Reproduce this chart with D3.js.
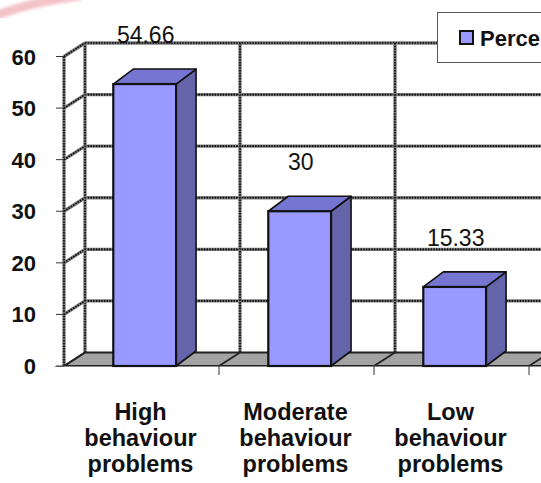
<!DOCTYPE html>
<html>
<head>
<meta charset="utf-8">
<script src="https://cdn.jsdelivr.net/npm/d3@7"></script>
<style>
  html, body { margin: 0; padding: 0; background: #fff; }
  svg { display: block; }
</style>
</head>
<body>
<svg id="chart" width="541" height="483"></svg>
<script>
// Chart data
const categories = [
  ["High", "behaviour", "problems"],
  ["Moderate", "behaviour", "problems"],
  ["Low", "behaviour", "problems"]
];
const values = [54.66, 30, 15.33];
const valueLabels = ["54.66", "30", "15.33"];
const yTicks = [0, 10, 20, 30, 40, 50, 60];
const seriesName = "Percentage";

const svg = d3.select("#chart");
const W = 541, H = 483;

// Oblique 3D projection offsets
const wallDX = 21, wallDY = -13.5;   // depth of the back wall
const barDX = 20, barDY = -15;       // depth of each bar

const y = d3.scaleLinear().domain([0, 60]).range([366, 56.5]);
const x = d3.scaleBand().domain(d3.range(categories.length)).range([64, 529]).padding(0);
const barOffset = x.bandwidth() * 0.318;
const barWidth = x.bandwidth() * 0.405;

// decorative pink swoosh in the top-left corner
const defs = svg.append("defs");
defs.append("filter").attr("id", "soft")
  .append("feGaussianBlur").attr("stdDeviation", 1.6);
svg.append("path")
  .attr("d", "M-5,16 Q30,2 80,-4")
  .attr("fill", "none")
  .attr("stroke", "#f3c3c8")
  .attr("stroke-width", 9)
  .attr("filter", "url(#soft)");

// hatched grid line helper
function gridLine(g, x1, y1, x2, y2) {
  g.append("line").attr("x1", x1).attr("y1", y1).attr("x2", x2).attr("y2", y2)
    .attr("stroke", "#7d7d7d").attr("stroke-width", 3.4);
  g.append("line").attr("x1", x1).attr("y1", y1).attr("x2", x2).attr("y2", y2)
    .attr("stroke", "#000").attr("stroke-width", 1.6).attr("stroke-dasharray", "1.5,1.2");
}

const grid = svg.append("g");
const backLeft = x.range()[0] + wallDX;
const xBoundaries = d3.range(categories.length + 1).map(i => x.range()[0] + i * x.bandwidth());

// back wall horizontal gridlines
yTicks.forEach(t => {
  if (t === 0) return;
  gridLine(grid, backLeft, y(t) + wallDY, W + 20, y(t) + wallDY);
});
// back wall vertical gridlines
xBoundaries.forEach(b => {
  gridLine(grid, b + wallDX, y(60) + wallDY, b + wallDX, y(0) + wallDY);
});
// left wall: front edge and diagonals at every tick
gridLine(grid, x.range()[0], y(60), x.range()[0], y(0));
yTicks.forEach(t => {
  if (t === 0) return;
  gridLine(grid, x.range()[0], y(t), backLeft, y(t) + wallDY);
});

// floor
const floor = svg.append("g");
floor.append("path")
  .attr("d", d3.line()([
    [x.range()[0], y(0)], [W + 20, y(0)],
    [W + 20 + wallDX, y(0) + wallDY], [backLeft, y(0) + wallDY]
  ]) + "Z")
  .attr("fill", "#a3a3a3")
  .attr("stroke", "#222")
  .attr("stroke-width", 1.8);
xBoundaries.forEach(b => {
  floor.append("line")
    .attr("x1", b).attr("y1", y(0)).attr("x2", b + wallDX).attr("y2", y(0) + wallDY)
    .attr("stroke", "#222").attr("stroke-width", 1.8);
});
floor.append("line")
  .attr("x1", x.range()[0] - 9).attr("y1", y(0) + 0.5).attr("x2", W).attr("y2", y(0) + 0.5)
  .attr("stroke", "#8a8a8a").attr("stroke-width", 1);

// tick marks
const ticks = svg.append("g").attr("stroke", "#333").attr("stroke-width", 1);
yTicks.forEach(t => {
  ticks.append("line").attr("x1", x.range()[0] - 8).attr("x2", x.range()[0])
    .attr("y1", y(t)).attr("y2", y(t));
});
xBoundaries.slice(1).forEach(b => {
  ticks.append("line").attr("x1", b).attr("x2", b)
    .attr("y1", y(0)).attr("y2", y(0) + 9);
});

// bars
const bars = svg.append("g").selectAll("g").data(values).join("g");
bars.each(function(v, i) {
  const g = d3.select(this);
  const x0 = x(i) + barOffset, x1 = x0 + barWidth;
  const yTop = y(v), yBot = y(0);
  // side face
  g.append("path")
    .attr("d", d3.line()([[x1, yBot], [x1 + barDX, yBot + barDY], [x1 + barDX, yTop + barDY], [x1, yTop]]) + "Z")
    .attr("fill", "#6464aa").attr("stroke", "#111").attr("stroke-width", 1.6).attr("stroke-linejoin", "round");
  // top face
  g.append("path")
    .attr("d", d3.line()([[x0, yTop], [x0 + barDX, yTop + barDY], [x1 + barDX, yTop + barDY], [x1, yTop]]) + "Z")
    .attr("fill", "#7676d2").attr("stroke", "#111").attr("stroke-width", 1.6).attr("stroke-linejoin", "round");
  // front face
  g.append("rect")
    .attr("x", x0).attr("y", yTop).attr("width", barWidth).attr("height", yBot - yTop)
    .attr("fill", "#9999ff").attr("stroke", "#111").attr("stroke-width", 2.2);
});

// value labels
svg.append("g").selectAll("text").data(values).join("text")
  .attr("x", (v, i) => x(i) + barOffset + barWidth / 2 + 1)
  .attr("y", v => y(v) - 41)
  .attr("text-anchor", "middle")
  .attr("font-family", "'Liberation Sans', Arial, sans-serif")
  .attr("font-size", 23)
  .attr("fill", "#111")
  .text((v, i) => valueLabels[i]);

// y axis labels
svg.append("g").selectAll("text").data(yTicks).join("text")
  .attr("x", 36)
  .attr("y", t => y(t) + 8)
  .attr("text-anchor", "end")
  .attr("font-family", "'Liberation Sans', Arial, sans-serif")
  .attr("font-weight", "bold")
  .attr("font-size", 22)
  .attr("fill", "#111")
  .text(t => t);

// category labels
const catG = svg.append("g").selectAll("text").data(categories).join("text")
  .attr("text-anchor", "middle")
  .attr("font-family", "'Liberation Sans', Arial, sans-serif")
  .attr("font-weight", "bold")
  .attr("font-size", 23.5)
  .attr("fill", "#111");
catG.each(function(lines, i) {
  const cx = x(i) + x.bandwidth() / 2 - 1;
  d3.select(this).selectAll("tspan").data(lines).join("tspan")
    .attr("x", cx)
    .attr("y", (d, j) => 420 + j * 26)
    .text(d => d);
});

// legend
const legend = svg.append("g");
legend.append("rect")
  .attr("x", 437.5).attr("y", 12.5).attr("width", 130).attr("height", 50)
  .attr("fill", "#fff").attr("stroke", "#555").attr("stroke-width", 1);
legend.append("rect")
  .attr("x", 460).attr("y", 31).attr("width", 13).attr("height", 13)
  .attr("fill", "#9999ff").attr("stroke", "#111").attr("stroke-width", 2);
legend.append("text")
  .attr("x", 480).attr("y", 46)
  .attr("font-family", "'Liberation Sans', Arial, sans-serif")
  .attr("font-weight", "bold")
  .attr("font-size", 22)
  .attr("fill", "#111")
  .text(seriesName);
</script>
</body>
</html>
